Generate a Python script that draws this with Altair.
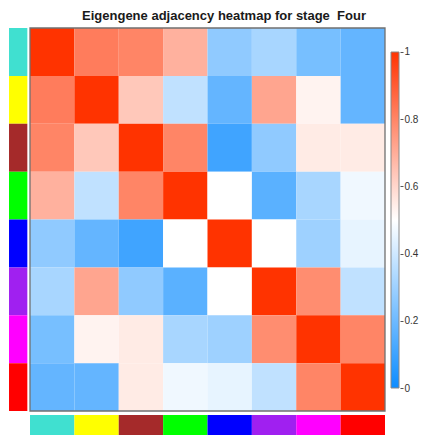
import altair as alt
import pandas as pd

modules = ["turquoise", "yellow", "brown", "green", "blue", "purple", "magenta", "red"]
module_colors = ["#40E0D0", "#FFFF00", "#A52A2A", "#00FF00", "#0000FF", "#A020F0", "#FF00FF", "#FF0000"]

row_turquoise = [1.00, 0.82, 0.80, 0.69, 0.27, 0.32, 0.22, 0.18]
row_yellow    = [0.82, 1.00, 0.635, 0.37, 0.18, 0.72, 0.53, 0.18]
row_brown     = [0.80, 0.635, 1.00, 0.80, 0.105, 0.27, 0.55, 0.55]
row_green     = [0.69, 0.37, 0.80, 1.00, 0.50, 0.16, 0.32, 0.47]
row_blue      = [0.27, 0.18, 0.105, 0.50, 1.00, 0.50, 0.30, 0.45]
row_purple    = [0.32, 0.72, 0.27, 0.16, 0.50, 1.00, 0.78, 0.37]
row_magenta   = [0.22, 0.53, 0.55, 0.32, 0.30, 0.78, 1.00, 0.80]
row_red       = [0.18, 0.18, 0.55, 0.47, 0.45, 0.37, 0.80, 1.00]

legend_ticks = [0, 0.2, 0.4, 0.6, 0.8, 1]

rows = [row_turquoise, row_yellow, row_brown, row_green, row_blue, row_purple, row_magenta, row_red]
n = len(modules)

cells = pd.DataFrame([
    {"r0": i, "r1": i + 1, "c0": j, "c1": j + 1, "value": v,
     "row": modules[i], "col": modules[j]}
    for i, r in enumerate(rows) for j, v in enumerate(r)
])
strips = pd.DataFrame({"i0": list(range(n)), "i1": list(range(1, n + 1)), "color": module_colors})
frame = pd.DataFrame({"a": [0], "b": [n]})
bar = pd.DataFrame({"v": [0, 1]})

XS = alt.Scale(domain=[-0.4958, 8.338], nice=False, zero=False)
YS = alt.Scale(domain=[0, 8.501], reverse=True, nice=False, zero=False)

heat = alt.Chart(cells).mark_rect(strokeWidth=0).encode(
    x=alt.X("c0:Q", scale=XS, axis=None),
    x2="c1:Q",
    y=alt.Y("r0:Q", scale=YS, axis=None),
    y2="r1:Q",
    color=alt.Color(
        "value:Q",
        scale=alt.Scale(domain=[0, 0.5, 1], range=["#0D8CFF", "#FFFFFF", "#FF3300"], interpolate="rgb"),
        legend=alt.Legend(orient="none", legendX=383, legendY=24, direction="vertical",
                          gradientLength=336, gradientThickness=8, title=None,
                          labelExpr="''", labelFontSize=1, padding=0,
                          gradientStrokeColor="#888888", gradientStrokeWidth=1),
    ),
)

left_strip = alt.Chart(strips).mark_rect().encode(
    x=alt.datum(-0.473, scale=XS, axis=None),
    x2=alt.datum(-0.06),
    y=alt.Y("i0:Q", scale=YS, axis=None),
    y2="i1:Q",
    fill=alt.Fill("color:N", scale=None),
)

bottom_strip = alt.Chart(strips).mark_rect().encode(
    x=alt.X("i0:Q", scale=XS, axis=None),
    x2="i1:Q",
    y=alt.datum(8.084, scale=YS, axis=None),
    y2=alt.datum(8.6),
    fill=alt.Fill("color:N", scale=None),
)

border = alt.Chart(frame).mark_rect(fill=None, stroke="#707070", strokeWidth=1.3).encode(
    x=alt.X("a:Q", scale=XS, axis=None),
    x2="b:Q",
    y=alt.Y("a:Q", scale=YS, axis=None),
    y2="b:Q",
)

bar_axis = alt.Chart(bar).mark_point(opacity=0).encode(
    y=alt.Y("v:Q",
            scale=alt.Scale(domain=[-0.1388, 1.0704], nice=False, zero=False),
            axis=alt.Axis(orient="right", values=legend_ticks, domain=False, grid=False,
                          tickSize=3, tickColor="#555555", labelColor="#333333",
                          labelFont="Liberation Sans", labelFontSize=10, labelPadding=1,
                          labelExpr="format(datum.value, '~g')", title=None)),
)

chart = alt.layer(heat, left_strip, bottom_strip, border, bar_axis).resolve_scale(
    y="independent"
).properties(
    width=392,
    height=407,
    autosize=alt.AutoSizeParams(type="none"),
    padding={"left": 0, "top": 20, "right": 20, "bottom": 0},
    title=alt.TitleParams(
        "Eigengene adjacency heatmap for stage\u00a0\u00a0Four",
        font="Liberation Sans", fontSize=13, fontWeight="bold", color="#1a1a1a",
        anchor="middle", offset=4, dx=20,
    ),
).configure_view(stroke=None)

chart.save("out.html", embed_options={"renderer": "svg", "actions": False})
